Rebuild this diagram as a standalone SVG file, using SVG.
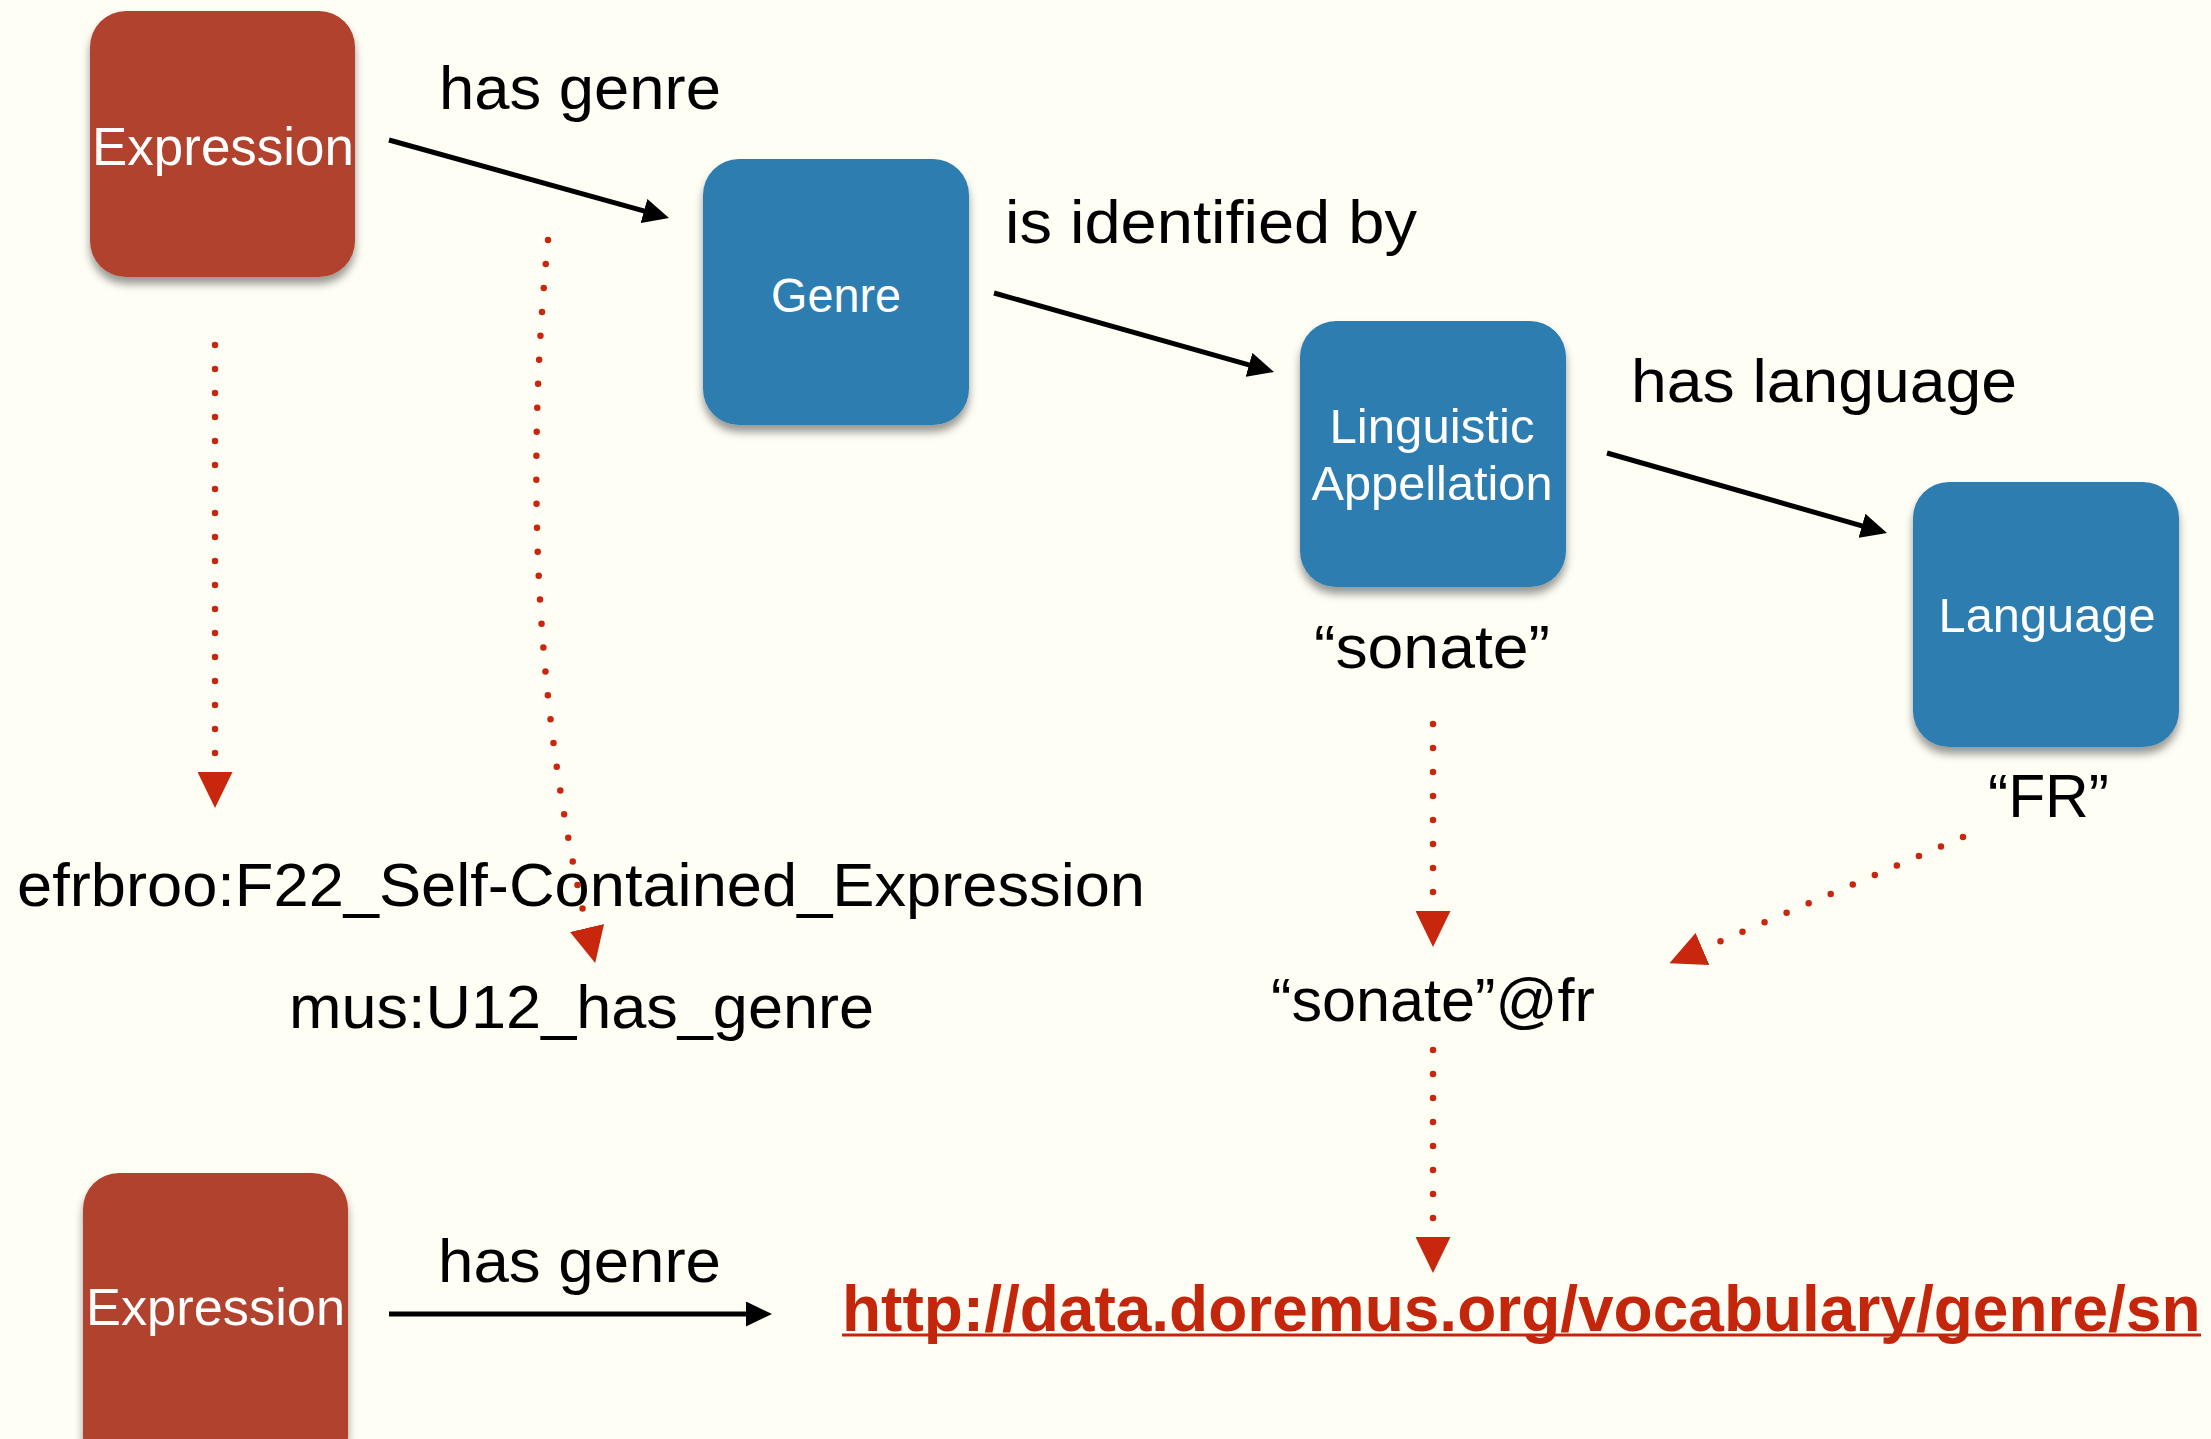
<svg xmlns="http://www.w3.org/2000/svg" width="2211" height="1439" viewBox="0 0 2211 1439">
  <style>
    .bg { fill: #fefef5; }
    .red-box { fill: #b1432f; filter: url(#shadow); }
    .blue-box { fill: #2e7db1; filter: url(#shadow); }
    .node-text { font-family: "Liberation Sans", Arial, sans-serif; fill: #ffffff; text-anchor: middle; }
    .label { font-family: "Liberation Sans", Arial, sans-serif; font-size: 62px; fill: #000000; }
    .link { font-family: "Liberation Sans", Arial, sans-serif; font-size: 64px; font-weight: bold; fill: #c4260c; }
    .rel { stroke: #000000; stroke-width: 5; fill: none; marker-end: url(#blackHead); }
    .map { stroke: #c8270e; stroke-width: 6.5; stroke-linecap: round; stroke-dasharray: 0 24; fill: none; marker-end: url(#redHead); }
  </style>
  <defs>
    <filter id="shadow" x="-20%" y="-20%" width="140%" height="150%">
      <feDropShadow dx="0" dy="7" stdDeviation="4" flood-color="#000000" flood-opacity="0.4"/>
    </filter>
    <marker id="blackHead" markerUnits="userSpaceOnUse" viewBox="0 0 26 25" markerWidth="26" markerHeight="25" refX="10" refY="12.5" orient="auto">
      <path d="M0,0 L26,12.5 L0,25 Z" fill="#000000"/>
    </marker>
    <marker id="redHead" markerUnits="userSpaceOnUse" viewBox="0 0 36 35" markerWidth="36" markerHeight="35" refX="0" refY="17.5" orient="auto">
      <path d="M0,0 L36,17.5 L0,35 Z" fill="#c8270e"/>
    </marker>
  </defs>

  <rect class="bg" x="0" y="0" width="2211" height="1439"/>

  <g id="connectors">
    <path id="e-expr-genre" class="rel" d="M389,140 L653.6,213.7"/>
    <path id="e-genre-appellation" class="rel" d="M994,293 L1258.6,367.6"/>
    <path id="e-appellation-language" class="rel" d="M1607,453 L1871.6,528.6"/>
    <path id="e-expr2-uri" class="rel" d="M389,1314 L756,1314"/>
    <path id="m-expr-class" class="map" d="M215,345 L215,772"/>
    <path id="m-hasgenre-prop" class="map" d="M548,240 Q512,607 587,928"/>
    <path id="m-sonate-literal" class="map" d="M1433,724 L1433,911"/>
    <path id="m-fr-literal" class="map" d="M1963,837 L1702.5,949"/>
    <path id="m-literal-uri" class="map" d="M1433,1050 L1433,1237"/>
  </g>

  <g id="node-expression">
    <rect class="red-box" x="90" y="11" width="265" height="266" rx="36" ry="36"/>
    <text class="node-text" x="223" y="165" font-size="53" textLength="262" lengthAdjust="spacingAndGlyphs">Expression</text>
  </g>

  <g id="node-genre">
    <rect class="blue-box" x="703" y="159" width="266" height="266" rx="36" ry="36"/>
    <text class="node-text" x="836" y="312" font-size="48" textLength="130" lengthAdjust="spacingAndGlyphs">Genre</text>
  </g>

  <g id="node-appellation">
    <rect class="blue-box" x="1300" y="321" width="266" height="266" rx="36" ry="36"/>
    <text class="node-text" x="1432" y="443" font-size="48" textLength="205" lengthAdjust="spacingAndGlyphs">Linguistic</text>
    <text class="node-text" x="1432" y="500" font-size="48" textLength="241" lengthAdjust="spacingAndGlyphs">Appellation</text>
  </g>

  <g id="node-language">
    <rect class="blue-box" x="1913" y="482" width="266" height="265" rx="36" ry="36"/>
    <text class="node-text" x="2047" y="632" font-size="48" textLength="217" lengthAdjust="spacingAndGlyphs">Language</text>
  </g>

  <g id="node-expression-2">
    <rect class="red-box" x="83" y="1173" width="265" height="300" rx="36" ry="36"/>
    <text class="node-text" x="215.5" y="1325" font-size="52" textLength="259" lengthAdjust="spacingAndGlyphs">Expression</text>
  </g>

  <g id="labels">
    <text class="label" x="439" y="109" textLength="282" lengthAdjust="spacingAndGlyphs">has genre</text>
    <text class="label" x="1005" y="243" textLength="412" lengthAdjust="spacingAndGlyphs">is identified by</text>
    <text class="label" x="1631" y="402" textLength="386" lengthAdjust="spacingAndGlyphs">has language</text>
    <text class="label" x="1314" y="668" textLength="236" lengthAdjust="spacingAndGlyphs">“sonate”</text>
    <text class="label" x="1988" y="817" textLength="121" lengthAdjust="spacingAndGlyphs">“FR”</text>
    <text class="label" x="438" y="1282" textLength="283" lengthAdjust="spacingAndGlyphs">has genre</text>
  </g>

  <g id="node-class">
    <text class="label" x="17" y="906" textLength="1128" lengthAdjust="spacingAndGlyphs">efrbroo:F22_Self-Contained_Expression</text>
  </g>

  <g id="node-property">
    <text class="label" x="289" y="1028" textLength="585" lengthAdjust="spacingAndGlyphs">mus:U12_has_genre</text>
  </g>

  <g id="node-literal">
    <text class="label" x="1271" y="1021" textLength="324" lengthAdjust="spacingAndGlyphs">“sonate”@fr</text>
  </g>

  <g id="node-uri">
    <text class="link" x="842" y="1331">http://data.doremus.org/vocabulary/genre/sn</text>
    <line x1="842" y1="1335" x2="2201" y2="1335" stroke="#c4260c" stroke-width="3"/>
  </g>
</svg>
